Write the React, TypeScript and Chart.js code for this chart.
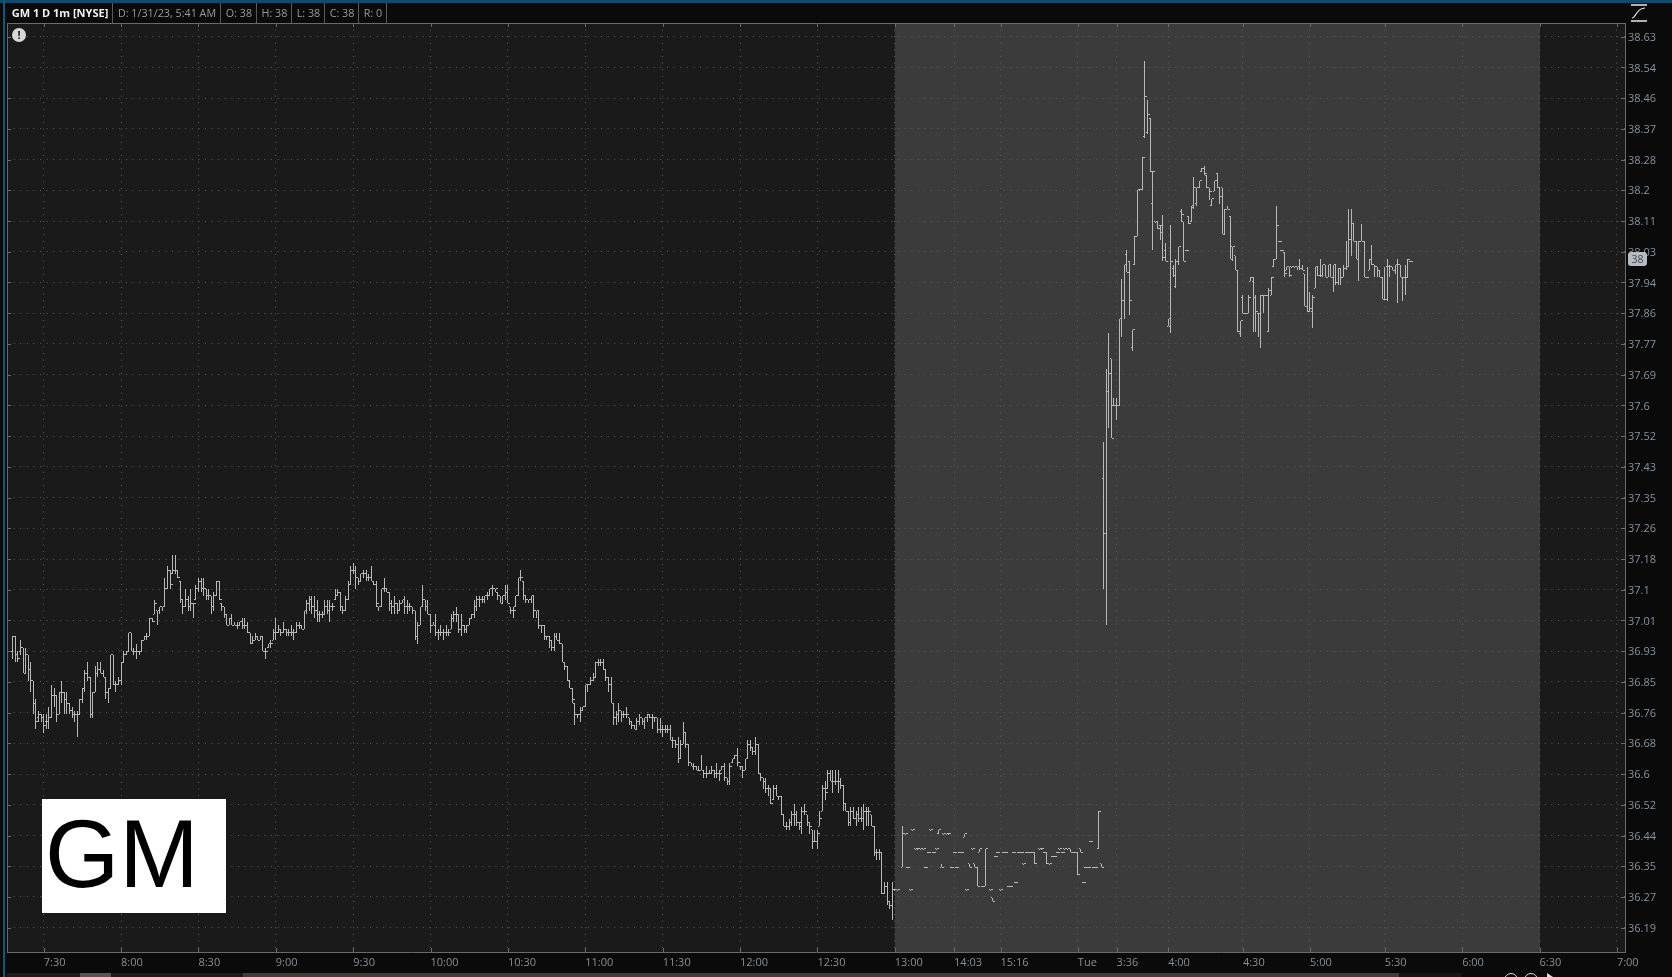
import React, { useEffect, useRef } from "react";
import { Chart, registerables } from "chart.js";

Chart.register(...registerables);

// --- axis content ---
const priceTickLabels = ["36.19","36.27","36.35","36.44","36.52","36.6","36.68","36.76","36.85","36.93","37.01","37.1","37.18","37.26","37.35","37.43","37.52","37.6","37.69","37.77","37.86","37.94","38.03","38.11","38.2","38.28","38.37","38.46","38.54","38.63"];
const timeTickLabels = ["7:30","8:00","8:30","9:00","9:30","10:00","10:30","11:00","11:30","12:00","12:30","13:00","14:03","15:16","Tue","3:36","4:00","4:30","5:00","5:30","6:00","6:30","7:00"];
const timeTickSlots = [13,43,73,103,133,163,193,223,253,283,313,343,366,384,414,429,449,478,504,533,563,593,623];
const extendedStartSlot = 343;
const extendedEndSlot = 593;
const firstBarSlot = 1;

// --- one-minute bars; null = a minute with no trade ---
const highs = [
36.97,36.97,36.93,36.96,36.94,36.94,36.92,36.90,36.85,36.80,
36.77,36.76,36.76,36.76,36.78,36.84,36.83,36.81,36.82,36.85,
36.82,36.82,36.79,36.78,36.77,36.77,36.80,36.83,36.88,36.90,
36.86,36.82,36.89,36.90,36.90,36.88,36.86,36.83,36.92,36.92,
36.85,36.86,36.90,36.93,36.93,36.98,36.98,36.94,36.95,36.93,
36.96,36.97,36.98,37.02,37.02,37.07,37.04,37.05,37.05,37.13,
37.16,37.15,37.19,37.19,37.15,37.12,37.07,37.10,37.08,37.10,
37.06,37.11,37.13,37.13,37.13,37.10,37.10,37.08,37.09,37.12,
37.12,37.06,37.05,37.03,37.02,37.03,37.01,37.01,37.01,37.02,
37.02,37.01,36.98,36.97,36.98,36.97,36.97,36.97,36.94,36.95,
36.96,36.99,37.02,37.00,36.99,37.01,36.99,36.99,37.00,36.99,
37.01,37.01,37.00,37.04,37.07,37.08,37.08,37.08,37.07,37.04,
37.04,37.07,37.07,37.07,37.06,37.10,37.10,37.09,37.05,37.08,
37.12,37.16,37.17,37.16,37.13,37.14,37.15,37.15,37.14,37.16,
37.12,37.12,37.05,37.10,37.13,37.10,37.09,37.07,37.08,37.06,
37.07,37.07,37.08,37.07,37.06,37.05,37.04,37.01,37.05,37.11,
37.07,37.07,37.03,37.01,37.03,36.99,37.00,36.99,37.00,
36.99,37.03,37.04,37.05,37.03,37.03,37.00,37.00,37.02,37.03,
37.07,37.08,37.08,37.08,37.08,37.09,37.10,37.11,37.10,37.09,
37.08,37.08,37.11,37.11,37.05,37.05,37.08,37.13,37.15,37.12,
37.08,37.07,37.08,37.08,37.04,37.04,37.00,37.00,36.97,36.97,
36.96,36.98,36.98,36.98,36.95,36.90,36.89,36.85,36.83,36.79,
36.76,36.78,36.78,36.84,36.84,36.86,36.87,36.90,36.91,36.91,
36.91,36.88,36.86,36.86,36.79,36.77,36.79,36.77,36.77,36.78,
36.75,36.74,36.73,36.75,36.76,36.75,36.75,36.76,36.76,36.76,
36.75,36.75,36.75,36.73,36.73,36.73,36.73,36.70,36.69,36.70,
36.69,36.74,36.71,36.68,36.63,36.63,36.62,36.62,36.65,36.61,
36.62,36.61,36.62,36.61,36.63,36.61,36.62,36.63,36.59,36.63,
36.64,36.65,36.67,36.62,36.62,36.64,36.69,36.69,36.67,36.70,
36.68,36.60,36.59,36.59,36.57,36.56,36.57,36.57,36.54,36.54,
36.49,36.47,36.48,36.50,36.52,36.50,36.47,36.51,36.52,36.49,
36.47,36.45,36.45,36.45,36.50,36.57,36.58,36.61,36.61,36.61,
36.61,36.61,36.59,36.57,36.52,36.50,36.51,36.51,36.50,36.51,
36.51,36.52,36.51,36.51,36.49,36.46,36.40,36.40,36.39,36.31,
36.31,36.26,36.31,
36.29,36.29,null,36.46,36.44,36.35,36.29,36.45,36.40,36.40,
36.40,36.40,36.35,36.39,36.45,36.39,36.40,36.45,36.36,36.44,
36.44,36.44,36.35,36.39,36.35,36.39,36.39,36.44,36.29,36.36,
36.40,36.36,36.35,36.40,36.30,36.40,null,36.29,36.27,36.38,
36.39,36.29,36.39,36.39,36.30,36.30,36.39,36.31,36.39,36.39,
36.36,36.39,36.39,36.39,36.39,null,36.40,36.40,36.39,36.39,
36.36,36.38,36.38,36.39,36.40,36.39,36.40,36.40,36.40,36.39,
36.39,36.39,36.40,36.31,36.35,36.35,36.42,36.35,36.35,36.50,
36.36,
37.50,37.70,37.80,37.73,37.62,37.62,37.84,37.95,37.99,38.03,
38.00,37.81,38.07,38.20,38.20,38.29,38.56,38.45,38.40,38.25,
38.11,38.11,38.10,38.13,38.05,37.84,38.10,37.99,38.005,38.04,
38.145,38.11,38.03,38.125,38.155,38.235,38.205,38.225,38.26,38.265,
38.24,38.205,38.175,38.225,38.245,38.205,38.205,38.145,38.155,38.125,
38.04,38.015,37.975,37.835,37.905,37.855,37.905,37.955,37.955,37.905,
37.855,37.905,37.905,37.905,37.925,37.955,38.005,38.155,38.055,38.03,
38.025,37.985,37.985,37.985,37.985,37.985,38.005,37.99,37.965,
37.985,37.915,37.905,37.985,37.985,38.005,37.99,37.99,37.99,
37.99,37.99,37.99,37.98,37.98,37.99,38.055,38.145,38.145,38.105,
38.055,38.055,38.105,38.055,37.955,38.005,38.045,37.99,37.985,37.975,
37.955,37.985,38.005,37.99,37.985,37.99,38.005,37.99,37.955,37.99,
38.005,38.00];

const lows = [
36.91,36.90,36.90,36.92,36.87,36.87,36.85,36.82,36.76,36.72,
36.74,36.74,36.71,36.72,36.72,36.75,36.78,36.74,36.76,36.79,
36.76,36.76,36.76,36.75,36.74,36.70,36.76,36.79,36.82,36.85,
36.75,36.75,36.82,36.86,36.87,36.86,36.80,36.79,36.83,36.84,
36.82,36.84,36.84,36.90,36.92,36.93,36.93,36.92,36.91,36.92,
36.93,36.96,36.96,36.97,37.01,37.03,37.00,37.03,37.04,37.05,
37.10,37.10,37.14,37.14,37.13,37.06,37.03,37.05,37.04,37.04,
37.02,37.07,37.09,37.09,37.08,37.07,37.07,37.03,37.04,37.08,
37.07,37.04,37.02,37.00,37.00,37.00,37.00,36.99,37.00,36.99,
36.99,36.98,36.95,36.95,36.96,36.96,36.96,36.93,36.91,36.94,
36.94,36.96,36.96,36.98,36.97,36.98,36.97,36.97,36.97,36.96,
36.98,36.99,36.99,36.99,37.03,37.04,37.03,37.02,37.01,37.01,
37.02,37.03,37.03,37.01,37.04,37.07,37.08,37.04,37.03,37.04,
37.07,37.11,37.14,37.10,37.11,37.12,37.13,37.12,37.12,37.12,
37.11,37.05,37.04,37.05,37.09,37.09,37.04,37.03,37.03,37.03,
37.04,37.06,37.03,37.03,37.04,37.03,36.96,36.95,37.00,37.05,
37.04,37.03,36.98,37.00,36.97,36.96,36.97,36.96,36.97,
36.97,36.99,37.01,37.01,36.98,36.97,36.98,36.98,37.00,37.02,
37.02,37.04,37.05,37.06,37.06,37.07,37.08,37.08,37.09,37.07,
37.06,37.06,37.07,37.06,37.03,37.02,37.05,37.08,37.12,37.07,
37.06,37.06,37.06,37.02,37.02,36.99,36.98,36.96,36.96,36.94,
36.93,36.93,36.96,36.95,36.90,36.88,36.85,36.83,36.79,36.73,
36.75,36.74,36.77,36.78,36.82,36.84,36.85,36.86,36.89,36.89,
36.88,36.85,36.82,36.79,36.73,36.73,36.74,36.74,36.75,36.75,
36.73,36.72,36.72,36.72,36.73,36.73,36.72,36.74,36.75,36.72,
36.74,36.71,36.71,36.70,36.71,36.71,36.69,36.67,36.67,36.63,
36.64,36.68,36.67,36.62,36.62,36.61,36.61,36.61,36.61,36.59,
36.59,36.60,36.60,36.59,36.59,36.58,36.61,36.58,36.57,36.57,
36.63,36.64,36.62,36.61,36.59,36.61,36.64,36.66,36.65,36.65,
36.60,36.58,36.56,36.55,36.54,36.52,36.53,36.54,36.53,36.49,
36.46,36.45,36.45,36.46,36.46,36.46,36.45,36.44,36.49,36.46,
36.44,36.40,36.42,36.40,36.46,36.50,36.53,36.56,36.58,36.55,
36.57,36.55,36.56,36.50,36.50,36.46,36.46,36.48,36.46,36.47,
36.47,36.45,36.46,36.46,36.46,36.38,36.37,36.37,36.28,36.28,
36.25,36.24,36.21,
36.29,36.29,null,36.35,36.44,36.35,36.29,36.45,36.40,36.40,
36.40,36.40,36.35,36.39,36.45,36.39,36.40,36.44,36.35,36.44,
36.44,36.44,36.35,36.39,36.35,36.39,36.39,36.43,36.29,36.35,
36.40,36.35,36.30,36.39,36.30,36.30,null,36.29,36.26,36.38,
36.39,36.29,36.39,36.39,36.30,36.30,36.39,36.31,36.39,36.39,
36.36,36.39,36.39,36.39,36.36,null,36.40,36.40,36.39,36.36,
36.36,36.38,36.38,36.39,36.40,36.39,36.40,36.40,36.39,36.39,
36.39,36.33,36.39,36.31,36.35,36.35,36.42,36.35,36.35,36.40,
36.35,
37.10,37.00,37.54,37.51,37.60,37.56,37.60,37.79,37.84,37.97,
37.85,37.75,37.99,38.07,38.20,38.20,38.345,38.355,38.25,38.03,
38.11,38.09,38.06,38.00,38.00,37.82,37.80,37.955,37.925,37.99,
38.11,38.00,38.03,38.105,38.11,38.145,38.155,38.205,38.25,38.24,
38.205,38.17,38.155,38.195,38.205,38.16,38.075,38.075,38.145,38.005,
38.00,37.975,37.805,37.79,37.855,37.855,37.855,37.945,37.805,37.805,
37.79,37.76,37.855,37.905,37.805,37.905,37.985,38.005,38.055,38.03,
37.955,37.975,37.955,37.985,37.985,37.975,37.975,37.975,37.875,
37.86,37.86,37.815,37.925,37.96,37.955,37.955,37.955,37.955,
37.955,37.915,37.935,37.935,37.935,37.955,37.975,37.985,38.015,38.055,
38.005,37.945,38.055,37.955,37.955,37.975,37.99,37.955,37.955,37.955,
37.895,37.895,37.89,37.955,37.975,37.965,37.885,37.955,37.89,37.905,
37.955,38.00];

const opens = [
36.93,36.97,36.92,36.93,36.94,36.87,36.92,36.88,36.85,36.79,
36.75,36.76,36.75,36.74,36.74,36.75,36.81,36.81,36.76,36.82,
36.82,36.80,36.79,36.77,36.76,36.76,36.76,36.80,36.83,36.87,
36.86,36.76,36.82,36.87,36.88,36.87,36.86,36.82,36.83,36.92,
36.84,36.84,36.85,36.90,36.92,36.93,36.98,36.93,36.93,36.93,
36.93,36.96,36.97,36.97,37.02,37.03,37.04,37.04,37.05,37.05,
37.10,37.15,37.14,37.15,37.15,37.12,37.07,37.05,37.07,37.05,
37.06,37.07,37.10,37.12,37.10,37.10,37.08,37.08,37.05,37.08,
37.12,37.06,37.05,37.03,37.00,37.02,37.00,37.00,37.00,37.01,
37.00,37.00,36.98,36.95,36.96,36.97,36.96,36.97,36.93,36.94,
36.95,36.96,36.98,36.98,36.99,36.98,36.99,36.98,36.98,36.98,
36.98,37.00,37.00,36.99,37.04,37.06,37.07,37.05,37.04,37.03,
37.03,37.03,37.05,37.04,37.05,37.07,37.08,37.09,37.05,37.04,
37.07,37.11,37.15,37.15,37.13,37.12,37.14,37.14,37.13,37.13,
37.12,37.11,37.05,37.05,37.10,37.10,37.09,37.06,37.05,37.06,
37.04,37.06,37.07,37.05,37.05,37.05,37.04,36.97,37.00,37.05,
37.07,37.05,37.03,37.00,37.00,36.98,36.98,36.98,36.98,
36.98,36.99,37.02,37.03,37.03,36.99,37.00,36.99,37.00,37.02,
37.03,37.05,37.07,37.07,37.07,37.08,37.08,37.10,37.10,37.09,
37.08,37.06,37.08,37.09,37.05,37.04,37.05,37.08,37.13,37.12,
37.08,37.07,37.07,37.08,37.04,37.04,37.00,37.00,36.97,36.97,
36.96,36.94,36.97,36.96,36.95,36.90,36.89,36.85,36.83,36.79,
36.76,36.76,36.77,36.78,36.84,36.84,36.85,36.86,36.90,36.90,
36.90,36.88,36.86,36.84,36.79,36.75,36.76,36.77,36.76,36.76,
36.75,36.74,36.73,36.72,36.74,36.75,36.74,36.75,36.76,36.75,
36.75,36.75,36.72,36.72,36.72,36.72,36.72,36.69,36.69,36.68,
36.64,36.68,36.71,36.68,36.63,36.62,36.62,36.61,36.61,36.61,
36.60,36.60,36.60,36.61,36.60,36.60,36.61,36.62,36.59,36.58,
36.63,36.64,36.65,36.62,36.62,36.61,36.64,36.68,36.67,36.66,
36.68,36.60,36.59,36.58,36.56,36.56,36.53,36.56,36.54,36.54,
36.49,36.46,36.46,36.47,36.49,36.49,36.47,36.46,36.50,36.49,
36.47,36.45,36.42,36.42,36.46,36.50,36.56,36.56,36.60,36.58,
36.58,36.58,36.58,36.57,36.52,36.50,36.47,36.50,36.48,36.49,
36.48,36.48,36.50,36.50,36.49,36.46,36.39,36.39,36.39,36.28,
36.30,36.26,36.25,
36.29,36.29,null,36.35,36.44,36.35,36.29,36.45,36.40,36.40,
36.40,36.40,36.35,36.39,36.45,36.39,36.40,36.44,36.35,36.44,
36.44,36.44,36.35,36.39,36.35,36.39,36.39,36.43,36.29,36.36,
36.40,36.36,36.35,36.39,36.30,36.30,null,36.29,36.27,36.38,
36.39,36.29,36.39,36.39,36.30,36.30,36.39,36.31,36.39,36.39,
36.36,36.39,36.39,36.39,36.39,null,36.40,36.40,36.39,36.39,
36.36,36.38,36.38,36.39,36.40,36.39,36.40,36.40,36.40,36.39,
36.39,36.39,36.40,36.31,36.35,36.35,36.42,36.35,36.35,36.40,
36.36,
37.40,37.25,37.64,37.73,37.60,37.60,37.60,37.84,37.89,38.02,
38.00,37.76,37.99,38.07,38.20,38.20,38.35,38.36,38.40,38.16,
38.11,38.11,38.10,38.10,38.03,37.82,37.82,37.98,37.93,38.00,
38.14,38.11,38.03,38.125,38.11,38.15,38.16,38.205,38.25,38.26,
38.24,38.205,38.155,38.195,38.245,38.205,38.205,38.075,38.145,38.125,
38.04,38.015,37.975,37.80,37.90,37.855,37.855,37.945,37.945,37.90,
37.855,37.855,37.905,37.905,37.805,37.905,37.985,38.005,38.055,38.03,
38.025,37.975,37.985,37.985,37.985,37.985,37.985,37.98,37.965,
37.875,37.86,37.86,37.925,37.985,37.96,37.96,37.99,37.955,
37.99,37.955,37.99,37.94,37.98,37.955,37.98,37.985,38.06,38.105,
38.055,38.005,38.055,38.055,37.955,37.975,38.005,37.99,37.985,37.975,
37.955,37.895,37.985,37.985,37.985,37.975,37.99,37.99,37.955,37.955,
37.955,38.00];

const closes = [
36.97,36.92,36.91,36.94,36.87,36.92,36.88,36.85,36.79,36.74,
36.76,36.75,36.73,36.74,36.75,36.81,36.81,36.76,36.82,36.82,
36.80,36.79,36.77,36.76,36.76,36.76,36.80,36.83,36.87,36.86,
36.76,36.82,36.87,36.88,36.87,36.86,36.82,36.83,36.92,36.84,
36.84,36.85,36.90,36.92,36.93,36.98,36.93,36.93,36.93,36.93,
36.96,36.97,36.97,37.02,37.01,37.06,37.04,37.05,37.05,37.10,
37.15,37.11,37.15,37.15,37.13,37.07,37.05,37.07,37.05,37.06,
37.06,37.10,37.12,37.10,37.10,37.08,37.08,37.05,37.08,37.12,
37.07,37.05,37.03,37.00,37.02,37.00,37.00,37.00,37.01,37.00,
37.00,36.98,36.95,36.96,36.97,36.96,36.97,36.93,36.93,36.95,
36.95,36.98,36.98,36.99,36.98,36.99,36.98,36.98,36.98,36.98,
37.00,37.00,36.99,37.04,37.06,37.07,37.05,37.04,37.03,37.03,
37.03,37.05,37.04,37.05,37.05,37.08,37.09,37.05,37.04,37.07,
37.11,37.15,37.15,37.13,37.12,37.14,37.14,37.13,37.13,37.12,
37.11,37.06,37.05,37.10,37.10,37.09,37.06,37.05,37.06,37.04,
37.06,37.07,37.05,37.05,37.05,37.04,36.97,37.00,37.05,37.07,
37.05,37.03,37.00,37.00,36.98,36.98,36.98,36.98,36.98,
36.98,37.02,37.03,37.03,36.99,37.00,36.99,37.00,37.02,37.03,
37.05,37.07,37.07,37.07,37.08,37.08,37.10,37.10,37.10,37.08,
37.06,37.08,37.09,37.06,37.04,37.04,37.08,37.13,37.13,37.08,
37.07,37.07,37.08,37.04,37.04,37.00,37.00,36.97,36.97,36.96,
36.94,36.97,36.96,36.95,36.90,36.89,36.85,36.83,36.80,36.76,
36.76,36.77,36.78,36.84,36.84,36.85,36.86,36.90,36.90,36.90,
36.88,36.86,36.84,36.79,36.75,36.76,36.77,36.76,36.76,36.76,
36.74,36.73,36.72,36.74,36.75,36.74,36.75,36.76,36.75,36.75,
36.75,36.72,36.72,36.72,36.72,36.72,36.69,36.69,36.68,36.64,
36.68,36.71,36.68,36.63,36.62,36.62,36.61,36.61,36.61,36.60,
36.60,36.60,36.61,36.60,36.60,36.60,36.62,36.59,36.58,36.62,
36.64,36.65,36.63,36.62,36.61,36.64,36.68,36.67,36.66,36.68,
36.60,36.59,36.58,36.56,36.56,36.52,36.56,36.54,36.54,36.49,
36.46,36.46,36.47,36.49,36.49,36.47,36.47,36.50,36.50,36.47,
36.46,36.42,36.42,36.44,36.48,36.56,36.55,36.60,36.58,36.58,
36.58,36.58,36.57,36.52,36.50,36.47,36.50,36.48,36.49,36.48,
36.48,36.50,36.50,36.50,36.46,36.39,36.39,36.39,36.28,36.30,
36.26,36.25,36.29,
36.29,36.29,null,36.44,36.44,36.35,36.29,36.45,36.40,36.40,
36.40,36.40,36.35,36.39,36.45,36.39,36.40,36.45,36.35,36.44,
36.44,36.44,36.35,36.39,36.35,36.39,36.39,36.44,36.29,36.35,
36.40,36.35,36.30,36.40,36.30,36.40,null,36.29,36.26,36.38,
36.39,36.29,36.39,36.39,36.30,36.30,36.39,36.31,36.39,36.39,
36.36,36.39,36.39,36.39,36.36,null,36.40,36.40,36.39,36.36,
36.36,36.38,36.38,36.39,36.40,36.39,36.40,36.40,36.39,36.39,
36.39,36.33,36.39,36.31,36.35,36.35,36.42,36.35,36.35,36.50,
36.35,
37.25,37.64,37.69,37.51,37.60,37.60,37.84,37.89,37.99,37.97,
37.89,37.81,38.07,38.20,38.20,38.29,38.46,38.41,38.25,38.25,
38.11,38.09,38.08,38.01,38.00,37.84,38.00,37.96,38.00,38.04,
38.13,38.00,38.03,38.105,38.155,38.205,38.205,38.225,38.26,38.245,
38.205,38.195,38.175,38.225,38.205,38.18,38.075,38.145,38.145,38.005,
38.04,37.975,37.805,37.835,37.855,37.855,37.90,37.955,37.90,37.86,
37.855,37.905,37.905,37.905,37.92,37.955,38.005,38.10,38.055,38.03,
37.965,37.985,37.96,37.985,37.985,37.985,37.98,37.975,37.875,
37.86,37.87,37.90,37.985,37.96,37.96,37.99,37.955,37.99,
37.955,37.99,37.94,37.98,37.955,37.98,37.985,38.06,38.105,38.055,
38.005,38.055,38.055,37.955,37.955,38.005,37.99,37.985,37.975,37.955,
37.895,37.895,37.985,37.985,37.975,37.99,37.99,37.955,37.955,37.955,
38.005,38.00];

// --- header ---
const headerCells = [
  { text: "GM 1 D 1m [NYSE]", left: 8, right: 113, bold: true },
  { text: "D: 1/31/23, 5:41 AM", left: 114, right: 221, bold: false },
  { text: "O: 38", left: 222, right: 257, bold: false },
  { text: "H: 38", left: 258, right: 292, bold: false },
  { text: "L: 38", left: 293, right: 325, bold: false },
  { text: "C: 38", left: 326, right: 359, bold: false },
  { text: "R: 0", left: 360, right: 387, bold: false },
];

const FONT = '"Open Sans", "Noto Sans", sans-serif';
const WICK = "#b8b8b8";

function tickImage(columns: number[]) {
  const c = document.createElement("canvas");
  c.width = 5;
  c.height = 1;
  const g = c.getContext("2d")!;
  g.fillStyle = WICK;
  columns.forEach((col) => g.fillRect(col, 0, 1, 1));
  return c;
}

const slotOf = (i: number) => i + firstBarSlot;
const present = highs.map((h, i) => (h === null ? -1 : i)).filter((i) => i >= 0);

const framePlugin = {
  id: "frame",
  beforeDraw(chart: any) {
    const { ctx, chartArea: a, scales } = chart;
    ctx.save();
    ctx.fillStyle = "#1a1a1a";
    ctx.fillRect(a.left, a.top, a.right - a.left, a.bottom - a.top);
    const x0 = Math.round(scales.x.getPixelForValue(extendedStartSlot));
    const x1 = Math.round(scales.x.getPixelForValue(extendedEndSlot));
    ctx.fillStyle = "#3b3b3b";
    ctx.fillRect(x0, a.top, x1 - x0, a.bottom - a.top);
    ctx.restore();
  },
  beforeDatasetsDraw(chart: any) {
    // keep every mark on the pixel grid, as the original does
    chart.data.datasets.forEach((_: any, d: number) => {
      const meta = chart.getDatasetMeta(d);
      meta.data.forEach((el: any) => {
        el.x = Math.floor(el.x) + 0.5;
        if (meta.type === "bar") {
          const top = Math.round(Math.min(el.y, el.base));
          const bottom = Math.max(top + 1, Math.round(Math.max(el.y, el.base)));
          el.y = top;
          el.base = bottom;
          el.width = 1;
        } else {
          el.y = Math.floor(el.y) + 0.5;
        }
      });
    });
  },
  afterDraw(chart: any) {
    const { ctx, chartArea: a, scales } = chart;
    ctx.save();
    ctx.strokeStyle = "#6a6a6a";
    ctx.lineWidth = 1;
    ctx.beginPath();
    ctx.moveTo(a.left + 0.5, a.top + 0.5);
    ctx.lineTo(a.right + 0.5, a.top + 0.5);
    ctx.moveTo(a.left + 0.5, a.top);
    ctx.lineTo(a.left + 0.5, a.bottom);
    scales.x.ticks.forEach((t: any) => {
      const x = Math.round(scales.x.getPixelForValue(t.value)) + 0.5;
      ctx.moveTo(x, a.bottom - 4);
      ctx.lineTo(x, a.bottom);
      ctx.moveTo(x, a.top);
      ctx.lineTo(x, a.top + 4);
    });
    scales.y.ticks.forEach((t: any) => {
      const y = Math.round(scales.y.getPixelForValue(t.value)) + 0.5;
      ctx.moveTo(a.right - 4, y);
      ctx.lineTo(a.right, y);
      ctx.moveTo(a.left, y);
      ctx.lineTo(a.left + 4, y);
    });
    ctx.stroke();
    ctx.restore();
  },
};

export default function App() {
  const ref = useRef<HTMLCanvasElement>(null);

  useEffect(() => {
    const openImg = tickImage([1]);
    const closeImg = tickImage([3, 4]);
    const chart = new Chart(ref.current!, {
      type: "bar",
      data: {
        datasets: [
          {
            type: "bar",
            label: "High-Low",
            data: present.map((i) => ({ x: slotOf(i), y: [lows[i], highs[i]] })),
            backgroundColor: WICK,
            borderWidth: 0,
            barThickness: 1,
            inflateAmount: 0,
          } as any,
          {
            type: "line",
            label: "Open",
            data: present.map((i) => ({ x: slotOf(i), y: opens[i] })),
            showLine: false,
            pointStyle: openImg,
            pointRadius: 3,
          } as any,
          {
            type: "line",
            label: "Close",
            data: present.map((i) => ({ x: slotOf(i), y: closes[i] })),
            showLine: false,
            pointStyle: closeImg,
            pointRadius: 3,
          } as any,
        ],
      },
      options: {
        responsive: false,
        animation: false,
        devicePixelRatio: 1,
        events: [],
        layout: { padding: { left: 7, top: 23, right: 0, bottom: 0 } },
        plugins: { legend: { display: false }, tooltip: { enabled: false }, title: { display: false } },
        scales: {
          x: {
            type: "linear",
            min: -1.23,
            max: 626.15,
            offset: false,
            bounds: "data",
            grid: { offset: false, color: "#5c5c5c", drawTicks: false },
            border: { display: true, color: "#6a6a6a", dash: [1, 5.6] },
            afterBuildTicks: (axis: any) => {
              axis.ticks = timeTickSlots.map((value) => ({ value }));
            },
            afterFit: (axis: any) => {
              axis.height = 25;
            },
            ticks: {
              autoSkip: false,
              maxRotation: 0,
              minRotation: 0,
              align: "start",
              padding: 4,
              color: "#8a8f94",
              font: { family: FONT, size: 11 },
              callback: (_: any, index: number) => timeTickLabels[index],
            },
          },
          y: {
            type: "logarithmic",
            position: "right",
            min: 36.1256,
            max: 38.6688,
            bounds: "data",
            grid: { color: "#5c5c5c", drawTicks: false },
            border: { display: true, color: "#6a6a6a", dash: [1, 5.6] },
            afterBuildTicks: (axis: any) => {
              const lo = parseFloat(priceTickLabels[0]);
              const hi = parseFloat(priceTickLabels[priceTickLabels.length - 1]);
              axis.ticks = priceTickLabels.map((_, k) => ({
                value: lo * Math.pow(hi / lo, k / (priceTickLabels.length - 1)),
              }));
            },
            afterFit: (axis: any) => {
              axis.width = 47;
            },
            ticks: {
              autoSkip: false,
              padding: 3,
              labelOffset: 1,
              color: "#8a929a",
              font: { family: FONT, size: 11 },
              callback: (_: any, index: number) => priceTickLabels[index],
            },
          },
        },
      } as any,
      plugins: [framePlugin],
    });
    return () => chart.destroy();
  }, []);

  const abs = (left: number, top: number, width: number, height: number, extra: any = {}) => ({
    position: "absolute" as const,
    left,
    top,
    width,
    height,
    ...extra,
  });

  return (
    <div style={{ position: "absolute", left: 0, top: 0, width: 1672, height: 977, overflow: "hidden", background: "#0a0a0a", fontFamily: FONT }}>
      <canvas ref={ref} width={1672} height={977} style={{ position: "absolute", left: 0, top: 0, display: "block" }} />

      {/* window chrome */}
      <div style={abs(0, 0, 1672, 3, { background: "#0d4a6e" })} />
      <div style={abs(3, 0, 2, 977, { background: "#14557c" })} />

      {/* header strip */}
      {headerCells.map((c) => (
        <div
          key={c.text}
          style={abs(c.left, 3, c.right - c.left, 20, {
            boxSizing: "border-box",
            borderRight: "1px solid #5a5a5a",
            color: c.bold ? "#f2f2f2" : "#9a9a9a",
            fontWeight: c.bold ? 700 : 400,
            fontSize: c.bold ? 11 : 10.75,
            lineHeight: "20px",
            textAlign: "center",
            whiteSpace: "nowrap",
          })}
        >
          {c.text}
        </div>
      ))}

      {/* alert badge */}
      <div style={abs(12, 28, 14, 14, { borderRadius: 7, background: "#d8d8d8", color: "#222", fontWeight: 700, fontSize: 11, lineHeight: "14px", textAlign: "center" })}>!</div>

      {/* symbol box */}
      <div style={abs(42, 799, 184, 114, { background: "#fff" })}>
        <div style={{ position: "absolute", left: 3, top: -5, color: "#000", fontFamily: '"Liberation Sans", Arial, sans-serif', fontSize: 95.5, lineHeight: "120px", whiteSpace: "nowrap" }}>GM</div>
      </div>

      {/* last price bubble */}
      <div style={abs(1628, 252, 19, 14, { borderRadius: 3, background: "#b9bcbf", color: "#3c4650", fontSize: 10.5, lineHeight: "14px", textAlign: "center" })}>38</div>

      {/* expansion icon */}
      <svg style={abs(1630, 4, 18, 18)} viewBox="0 0 18 18">
        <path d="M1 1H17M1 17H17" stroke="#e8e8e8" strokeWidth="1.5" fill="none" />
        <path d="M2 14C6 14 6 4 15 4" stroke="#e8e8e8" strokeWidth="1.2" fill="none" />
      </svg>

      {/* scrollbar */}
      <div style={abs(7, 973, 236, 4, { background: "#1c1c1c" })} />
      <div style={abs(80, 973, 31, 4, { background: "#555" })} />
      <div style={abs(243, 973, 1156, 4, { background: "#3c3c3c" })} />
      <div style={abs(1399, 973, 63, 4, { background: "#151515" })} />
      <div style={abs(1504, 973, 14, 14, { boxSizing: "border-box", border: "1.5px solid #ddd", borderRadius: 7 })} />
      <div style={abs(1524, 973, 14, 14, { boxSizing: "border-box", border: "1.5px solid #ddd", borderRadius: 7 })} />
      <div style={abs(1547, 973, 0, 0, { borderLeft: "6px solid #ddd", borderTop: "4px solid transparent", borderBottom: "4px solid transparent" })} />
    </div>
  );
}
